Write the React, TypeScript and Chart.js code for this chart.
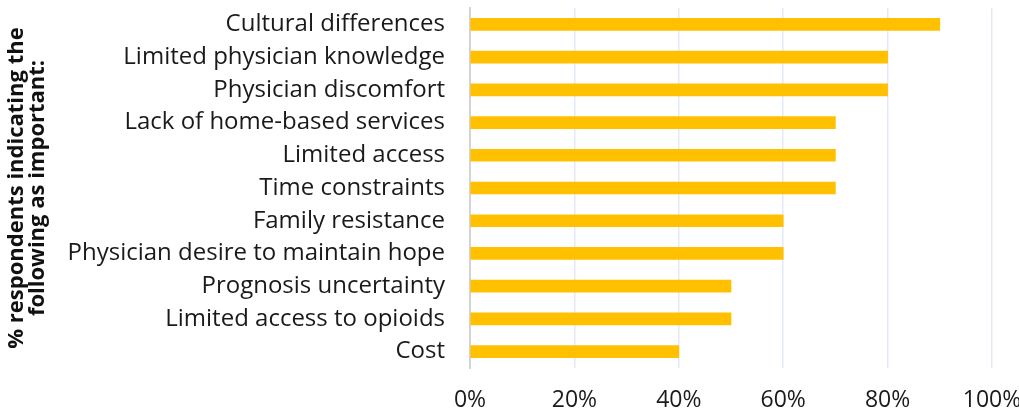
import React, { useEffect, useRef } from "react";
import { Chart, registerables } from "chart.js";

Chart.register(...registerables);

const categories = [
  "Cultural differences",
  "Limited physician knowledge",
  "Physician discomfort",
  "Lack of home-based services",
  "Limited access",
  "Time constraints",
  "Family resistance",
  "Physician desire to maintain hope",
  "Prognosis uncertainty",
  "Limited access to opioids",
  "Cost",
];

const percentValues = [90, 80, 80, 70, 70, 70, 60, 60, 50, 50, 40];

const xTickValues = [0, 20, 40, 60, 80, 100];

const yTitleLines = ["% respondents indicating the", "following as important:"];

export default function App() {
  const canvasRef = useRef<HTMLCanvasElement | null>(null);

  useEffect(() => {
    const canvas = canvasRef.current;
    if (!canvas) return;
    const chart = new Chart(canvas, {
      type: "bar",
      data: {
        labels: categories,
        datasets: [
          {
            data: percentValues,
            backgroundColor: "#FFC000",
            borderWidth: 0,
            barThickness: 12,
          },
        ],
      },
      options: {
        indexAxis: "y",
        animation: false,
        responsive: false,
        maintainAspectRatio: false,
        layout: { padding: { top: 8, right: 27, left: 0, bottom: 0 } },
        plugins: {
          legend: { display: false },
          tooltip: { enabled: false },
        },
        scales: {
          x: {
            min: 0,
            max: 100,
            afterBuildTicks: (scale: any) => {
              scale.ticks = xTickValues.map((v) => ({ value: v }));
            },
            afterFit: (scale: any) => {
              scale.height = 44;
              scale.paddingLeft = 0;
              scale.paddingRight = 0;
            },
            ticks: {
              callback: (v: any) => v + "%",
              font: { family: "Open Sans", size: 23 },
              color: "#1a1a1a",
              padding: 19,
              maxRotation: 0,
            },
            grid: {
              color: "#E3E9F5",
              lineWidth: 1.5,
              drawTicks: false,
            },
            border: { display: false },
          },
          y: {
            afterFit: (scale: any) => {
              scale.width = 470;
              scale.paddingTop = 0;
              scale.paddingBottom = 0;
            },
            ticks: {
              font: { family: "Open Sans", size: 24 },
              color: "#1a1a1a",
              padding: 25,
            },
            grid: { display: false, drawTicks: false },
            border: { display: true, color: "#D4D4D4", width: 2 },
            title: {
              display: true,
              text: yTitleLines,
              font: { family: "Open Sans", size: 22, weight: "bold", lineHeight: 0.92 },
              color: "#111",
              padding: { top: 7, bottom: 0 },
            },
          },
        },
      },
    });
    return () => chart.destroy();
  }, []);

  return (
    <div style={{ position: "fixed", left: 0, top: 0, width: 1019, height: 412, background: "#fff" }}>
      <canvas ref={canvasRef} width={1019} height={412} style={{ width: 1019, height: 412, display: "block" }} />
    </div>
  );
}
